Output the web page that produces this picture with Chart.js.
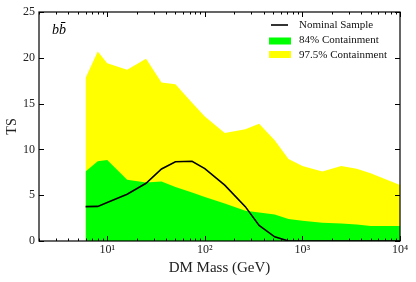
<!DOCTYPE html>
<html><head><meta charset="utf-8">
<script src="https://cdn.jsdelivr.net/npm/chart.js@4/dist/chart.umd.min.js"></script>
<style>html,body{margin:0;padding:0;background:#fff}#wrap{width:416px;height:282px}</style>
</head><body><div id="wrap"><canvas id="c"></canvas></div>
<script>
const masses = [6, 8, 10, 16, 25, 36, 50, 74, 100, 160, 260, 360, 520, 720, 1000, 1600, 2500, 3600, 5000, 10000];
const yellowUpper = [17.8, 20.7, 19.4, 18.7, 19.9, 17.3, 17.1, 15.1, 13.6, 11.8, 12.2, 12.8, 11.0, 8.95, 8.2, 7.6, 8.2, 7.9, 7.4, 6.1];
const greenUpper = [7.6, 8.7, 8.85, 6.7, 6.4, 6.5, 5.9, 5.3, 4.8, 4.1, 3.3, 3.1, 2.9, 2.4, 2.2, 2.0, 1.9, 1.8, 1.65, 1.65];
const nominal = [3.75, 3.78, 4.2, 5.1, 6.3, 7.86, 8.66, 8.7, 7.9, 6.1, 3.75, 1.7, 0.45, 0, 0, 0, 0, 0, 0, 0];
const yTicks = [0, 5, 10, 15, 20, 25];
const xMajorLabels = {10: '10¹', 100: '10²', 1000: '10³', 10000: '10⁴'};
const legendLabels = ['Nominal Sample', '84% Containment', '97.5% Containment'];
const panelLabel = 'bb̄';

const pts = arr => masses.map((m, i) => ({x: m, y: arr[i]}));
const SERIF = '"Liberation Serif", "DejaVu Serif", serif';

const decor = {
  id: 'decor',
  afterDraw(chart) {
    const {ctx, chartArea: a, scales: {x, y}} = chart;
    ctx.save();
    ctx.strokeStyle = '#000';
    ctx.lineWidth = 1;
    for (let d = 0; d <= 4; d++) {
      for (let k = 1; k <= 9; k++) {
        const v = k * Math.pow(10, d);
        if (v < x.min || v > x.max) continue;
        const px = Math.round(x.getPixelForValue(v)) + 0.5;
        const len = k === 1 ? 5 : 2.5;
        ctx.beginPath();
        ctx.moveTo(px, a.bottom); ctx.lineTo(px, a.bottom - len);
        ctx.moveTo(px, a.top); ctx.lineTo(px, a.top + len);
        ctx.stroke();
      }
    }
    yTicks.forEach(v => {
      const py = Math.round(y.getPixelForValue(v)) + 0.5;
      ctx.beginPath();
      ctx.moveTo(a.left, py); ctx.lineTo(a.left + 5, py);
      ctx.moveTo(a.right, py); ctx.lineTo(a.right - 5, py);
      ctx.stroke();
    });
    ctx.lineWidth = 1.2;
    ctx.strokeRect(a.left, a.top, a.right - a.left, a.bottom - a.top);
    ctx.fillStyle = '#000';
    ctx.font = 'italic 14px ' + SERIF;
    ctx.textBaseline = 'middle';
    ctx.textAlign = 'left';
    ctx.fillText(panelLabel, a.left + 13, a.top + 18);
    const lx = a.right - 131, ty = a.top + 13;
    ctx.font = '11px ' + SERIF;
    ctx.lineWidth = 1.6;
    ctx.beginPath(); ctx.moveTo(lx + 2, ty); ctx.lineTo(lx + 19, ty); ctx.stroke();
    ctx.fillStyle = '#00ff00';
    ctx.fillRect(lx, ty + 12.5, 22, 7);
    ctx.fillStyle = '#ffff00';
    ctx.fillRect(lx, ty + 26, 22, 7);
    ctx.fillStyle = '#111';
    legendLabels.forEach((t, i) => ctx.fillText(t, lx + 30, ty + i * 15.3));
    ctx.restore();
  }
};

new Chart(document.getElementById('c'), {
  type: 'line',
  data: {
    datasets: [
      {label: legendLabels[0], data: pts(nominal), borderColor: '#000', borderWidth: 1.6, pointRadius: 0, fill: false, tension: 0},
      {label: legendLabels[1], data: pts(greenUpper), borderColor: '#00ff00', backgroundColor: '#00ff00', borderWidth: 0, pointRadius: 0, fill: 'origin', tension: 0},
      {label: legendLabels[2], data: pts(yellowUpper), borderColor: '#ffff00', backgroundColor: '#ffff00', borderWidth: 0, pointRadius: 0, fill: 'origin', tension: 0}
    ]
  },
  options: {
    responsive: true, maintainAspectRatio: false, animation: false,
    layout: {padding: {top: 12, right: 16, left: 0, bottom: 0}},
    plugins: {legend: {display: false}, tooltip: {enabled: false}},
    scales: {
      x: {
        type: 'logarithmic', min: 2, max: 10000,
        grid: {display: false, tickLength: 0}, border: {display: false},
        afterFit: s => { s.height = 41; },
        ticks: {
          autoSkip: false, maxRotation: 0, padding: 2, color: '#222',
          font: {family: SERIF, size: 12},
          callback: v => xMajorLabels[v] || ''
        },
        title: {display: true, text: 'DM Mass (GeV)', color: '#222', font: {family: SERIF, size: 15}, padding: {top: 0, bottom: 5}}
      },
      y: {
        min: 0, max: 25,
        grid: {display: false, tickLength: 0}, border: {display: false},
        afterFit: s => { s.width = 39; },
        afterBuildTicks: s => { s.ticks = yTicks.map(v => ({value: v})); },
        ticks: {padding: 4, color: '#222', font: {family: SERIF, size: 12}},
        title: {display: true, text: 'TS', color: '#222', font: {family: SERIF, size: 14}, padding: {top: 4, bottom: 0}}
      }
    }
  },
  plugins: [decor]
});
</script></body></html>
